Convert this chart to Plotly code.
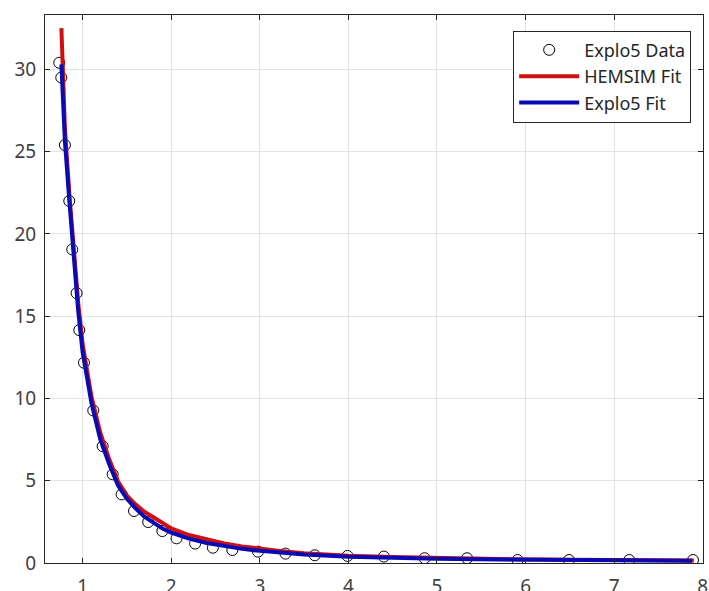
import plotly.graph_objects as go

# Explo5 data points
data_x = [0.736, 0.759, 0.80, 0.849, 0.883, 0.932, 0.962, 1.015, 1.12, 1.226, 1.339, 1.44,
          1.58, 1.74, 1.90, 2.06, 2.27, 2.47, 2.69, 2.98, 3.29, 3.62, 3.99, 4.40, 4.86,
          5.34, 5.91, 6.49, 7.17, 7.89]
data_y = [30.4, 29.5, 25.4, 22.0, 19.05, 16.4, 14.15, 12.17, 9.27, 7.1, 5.39, 4.17,
          3.16, 2.49, 1.94, 1.50, 1.18, 0.93, 0.79, 0.69, 0.57, 0.47, 0.43, 0.39, 0.29,
          0.29, 0.18, 0.18, 0.18, 0.18]

# HEMSIM fit (red)
hem_x = [0.76, 0.8, 0.85, 0.9, 0.95, 1.0, 1.1, 1.2, 1.3, 1.4, 1.5, 1.6, 1.7, 1.8, 1.9,
         2.0, 2.2, 2.4, 2.6, 2.8, 3.0, 3.2, 3.5, 4.0, 4.5, 5.0, 5.7, 6.5, 7.0, 7.9]
hem_y = [32.5, 26.4, 22.4, 18.8, 15.8, 13.3, 10.1, 7.9, 6.3, 4.95, 4.1, 3.55, 3.1, 2.78,
         2.45, 2.1, 1.7, 1.43, 1.19, 1.01, 0.86, 0.74, 0.6, 0.44, 0.36, 0.3, 0.24, 0.19,
         0.17, 0.15]

# Explo5 fit (blue)
ex_x = [0.76, 0.8, 0.85, 0.9, 0.95, 1.0, 1.1, 1.2, 1.3, 1.4, 1.5, 1.6, 1.7, 1.8, 1.9,
        2.0, 2.2, 2.4, 2.6, 2.8, 3.0, 3.2, 3.5, 4.0, 4.5, 5.0, 5.7, 6.5, 7.0, 7.88]
ex_y = [30.3, 25.6, 22.0, 18.3, 15.3, 12.8, 9.7, 7.5, 6.0, 4.7, 3.9, 3.3, 2.8, 2.45,
        2.1, 1.85, 1.48, 1.22, 1.02, 0.86, 0.74, 0.63, 0.52, 0.38, 0.31, 0.26, 0.21,
        0.17, 0.15, 0.13]

x_ticks = [1, 2, 3, 4, 5, 6, 7, 8]
y_ticks = [0, 5, 10, 15, 20, 25, 30]

fig = go.Figure()
fig.add_trace(go.Scatter(x=data_x, y=data_y, mode="markers", name="Explo5 Data",
                         marker=dict(symbol="circle-open", size=11, color="black",
                                     line=dict(width=1, color="black"))))
fig.add_trace(go.Scatter(x=hem_x, y=hem_y, mode="lines", name="HEMSIM Fit",
                         line=dict(color="#d01010", width=4)))
fig.add_trace(go.Scatter(x=ex_x, y=ex_y, mode="lines", name="Explo5 Fit",
                         line=dict(color="#0a0ab4", width=4)))

axis_common = dict(showgrid=True, gridcolor="#e3e3e3", gridwidth=1,
                   showline=True, linecolor="#262626", linewidth=1, mirror="ticks",
                   ticks="inside", ticklen=5, tickcolor="#262626", zeroline=False,
                   automargin=False,
                   tickfont=dict(family="Noto Sans", size=19, color="#404040"))

fig.update_xaxes(range=[0.575, 8.003], tickvals=x_ticks, ticktext=[str(v) for v in x_ticks],
                 ticklabelstandoff=6, **axis_common)
fig.update_yaxes(range=[0, 33.3], tickvals=y_ticks, ticktext=[str(v) for v in y_ticks],
                 ticklabelstandoff=4, **axis_common)

fig.update_layout(
    width=709, height=591,
    margin=dict(l=45, r=6, t=15, b=28),
    paper_bgcolor="white", plot_bgcolor="white",
    font=dict(family="Noto Sans", color="#262626"),
    legend=dict(x=0.982, y=0.9715, xanchor="right", yanchor="top",
                bgcolor="white", bordercolor="#262626", borderwidth=1,
                font=dict(family="Noto Sans", size=18, color="#262626"),
                itemwidth=60, tracegroupgap=0),
    showlegend=True,
)

fig.write_html("out.html", config={"displayModeBar": False},
               post_script="document.body.style.margin='0';document.body.style.overflow='hidden';")
